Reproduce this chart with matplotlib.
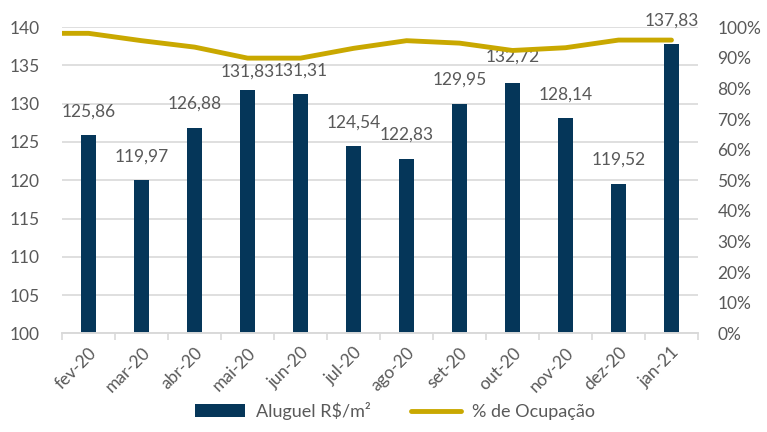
import numpy as np
import matplotlib
matplotlib.use("Agg")
from matplotlib import pyplot as plt
from matplotlib.ticker import FuncFormatter, MultipleLocator

months = ["fev-20", "mar-20", "abr-20", "mai-20", "jun-20", "jul-20",
          "ago-20", "set-20", "out-20", "nov-20", "dez-20", "jan-21"]
rent = [125.86, 119.97, 126.88, 131.83, 131.31, 124.54,
        122.83, 129.95, 132.72, 128.14, 119.52, 137.83]
occupancy = [98.0, 95.6, 93.5, 89.9, 89.9, 93.1,
             95.6, 94.8, 92.4, 93.3, 95.8, 95.8]

# how far each value label sits above its bar top, in pixels
label_lift = [24, 24, 24, 18, 23, 23, 24, 24, 26, 23, 24, 23]

NAVY = "#053659"
GOLD = "#C9A800"
GREY = "#595959"
GRID = "#D9D9D9"

plt.rcParams["font.family"] = ["Lato", "DejaVu Sans"]

fig = plt.figure(figsize=(7.67, 4.32), dpi=100)
ax = fig.add_axes([0.081, 0.2285, 0.829, 0.7085])
ax2 = ax.twinx()

x = np.arange(len(months))
bars = ax.bar(x, rent, width=0.28, color=NAVY, zorder=2, label="Aluguel R$/m²")

for xi, val, lift in zip(x, rent, label_lift):
    ax.annotate(f"{val:.2f}".replace(".", ","), (xi, val),
                xytext=(0, lift), textcoords="offset pixels",
                ha="center", va="center", fontsize=12.5, color=GREY)

ax.set_xlim(-0.5, len(months) - 0.5)
ax.set_ylim(100, 140)
ax.yaxis.set_major_locator(MultipleLocator(5))
ax.grid(axis="y", color=GRID, linewidth=1.2, zorder=0)
ax.set_axisbelow(True)

# occupancy line (runs in flat from the left edge, as in the original)
line_x = np.r_[ax.get_xlim()[0], x]
line_y = np.r_[occupancy[0], occupancy]
ax2.plot(line_x, line_y, color=GOLD, linewidth=3.5, solid_capstyle="round",
         label="% de Ocupação", zorder=3)
ax2.set_ylim(0, 100)
ax2.yaxis.set_major_locator(MultipleLocator(10))
ax2.yaxis.set_major_formatter(FuncFormatter(lambda v, _: f"{v:.0f}%"))

ax.set_xticks(x)
ax.set_xticklabels(months, rotation=45, ha="right", rotation_mode="anchor")
ax.set_xticks(np.arange(-0.5, len(months)), minor=True)
ax.tick_params(axis="x", which="major", length=0, pad=8, labelsize=12.5, labelcolor=GREY)
ax.tick_params(axis="x", which="minor", length=5, color=GRID, width=1.2)
ax.tick_params(axis="y", length=0, pad=16, labelsize=12.5, labelcolor=GREY)
ax2.tick_params(axis="y", length=0, pad=14, labelsize=12.5, labelcolor=GREY)

for a in (ax, ax2):
    for side in ("top", "left", "right"):
        a.spines[side].set_visible(False)
    a.spines["bottom"].set_color(GRID)
    a.spines["bottom"].set_linewidth(1.2)

handles = [bars, ax2.lines[0]]
fig.legend(handles, [h.get_label() for h in handles], loc="lower center",
           bbox_to_anchor=(0.515, -0.01), ncol=2, frameon=False, fontsize=13,
           labelcolor=GREY, handlelength=2.8, handletextpad=0.6,
           columnspacing=2.2)

fig.savefig("out.png", dpi=100)
